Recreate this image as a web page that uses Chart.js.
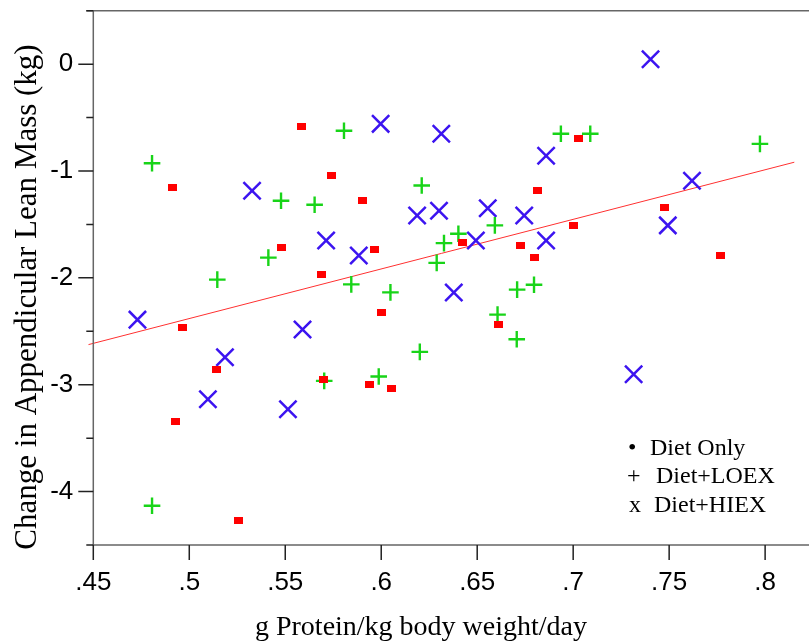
<!DOCTYPE html>
<html><head><meta charset="utf-8">
<script src="https://cdn.jsdelivr.net/npm/chart.js@4.4.1/dist/chart.umd.min.js"></script>
<style>html,body{margin:0;padding:0;background:#fff;overflow:hidden;}#wrap{width:809px;height:643px;position:relative;overflow:hidden;}#c{position:absolute;left:0;top:-4px;}</style>
</head><body><div id="wrap"><canvas id="c" width="809" height="647"></canvas></div>
<script>
// ---- data ----
const dietOnlyX = [.4913,.5585,.5742,.5903,.5483,.5964,.5687,.4964,.5141,.5697,.4927,.5255,.6004,.6611,.5941,.6055,.6422,.6727,.6801,.6815,.7029,.7004,.7474,.7765];
const dietOnlyY = [-1.157,-0.581,-1.042,-1.276,-1.718,-1.736,-1.970,-2.460,-2.855,-2.949,-3.344,-4.273,-2.322,-2.435,-2.995,-3.039,-1.668,-1.693,-1.811,-1.185,-0.693,-1.507,-1.344,-1.787];
const loexX = [.4806,.5478,.5653,.5412,.5146,.5806,.6211,.6936,.7089,.7973,.6592,.6402,.6327,.6289,.5844,.6048,.6708,.6796,.6606,.6706,.6201,.5987,.5703,.4806];
const loexY = [-0.927,-1.279,-1.316,-1.811,-2.017,-0.624,-1.136,-0.652,-0.652,-0.746,-1.509,-1.587,-1.675,-1.860,-2.061,-2.136,-2.110,-2.064,-2.344,-2.575,-2.693,-2.923,-2.964,-4.133];
const hiexX = [.5327,.5713,.5997,.6313,.6859,.6187,.6301,.6555,.6745,.6493,.6859,.5883,.6378,.7403,.7619,.7493,.4730,.5590,.5186,.5097,.5514,.7315];
const hiexY = [-1.185,-1.650,-0.559,-0.652,-0.858,-1.416,-1.372,-1.348,-1.416,-1.650,-1.650,-1.790,-2.138,0.045,-1.092,-1.509,-2.391,-2.484,-2.743,-3.136,-3.229,-2.902];
const fitSlope = 4.642;
const fitIntercept = -4.702;
const fitXRange = [0.4475, 0.8152];
const xTicks = [0.45,0.5,0.55,0.6,0.65,0.7,0.75,0.8];
const xTickLabels = ['.45','.5','.55','.6','.65','.7','.75','.8'];
const yTicks = [-4.5,-4,-3.5,-3,-2.5,-2,-1.5,-1,-0.5,0,0.5];
const yTickLabels = ['','-4','','-3','','-2','','-1','','0',''];
const seriesNames = ['Diet Only','Diet+LOEX','Diet+HIEX'];
const legendSymbols = ['\u2022','+','x'];
const xTitle = 'g Protein/kg body weight/day';
const yTitle = 'Change in Appendicular Lean Mass (kg)';

const zip = (xs, ys) => xs.map((x, i) => ({x, y: ys[i]}));

// red rectangular marker
const sq = document.createElement('canvas');
sq.width = 9; sq.height = 7;
const sctx = sq.getContext('2d');
sctx.fillStyle = '#ff0000';
sctx.fillRect(0, 0, 9, 7);

const SERIF = '"Liberation Serif", "Times New Roman", serif';
const SANS = '"Liberation Sans", Arial, sans-serif';
const OFFSET = 4; // canvas is shifted up by this many pixels

const decor = {
  id: 'decor',
  afterDraw(chart) {
    const {ctx, chartArea: a, scales: {x, y}} = chart;
    ctx.save();
    // frame
    ctx.strokeStyle = '#666';
    ctx.lineWidth = 1.5;
    ctx.beginPath();
    ctx.moveTo(a.left, a.top); ctx.lineTo(a.left, a.bottom); ctx.lineTo(chart.width, a.bottom);
    ctx.moveTo(a.left - 7, a.top); ctx.lineTo(chart.width, a.top);
    ctx.stroke();
    // ticks
    ctx.strokeStyle = '#222';
    ctx.beginPath();
    yTicks.forEach(v => {
      const py = y.getPixelForValue(v);
      const len = Number.isInteger(v) ? 15 : 7;
      ctx.moveTo(a.left - len, py); ctx.lineTo(a.left, py);
    });
    xTicks.forEach(v => {
      const px = x.getPixelForValue(v);
      ctx.moveTo(px, a.bottom); ctx.lineTo(px, a.bottom + 15);
    });
    ctx.stroke();
    // titles (page coordinates)
    ctx.translate(0, OFFSET);
    ctx.fillStyle = '#000';
    ctx.font = '28px ' + SERIF;
    ctx.textAlign = 'center';
    ctx.textBaseline = 'alphabetic';
    ctx.fillText(xTitle, 421, 635);
    ctx.save();
    ctx.translate(36, 297);
    ctx.rotate(-Math.PI / 2);
    ctx.font = '31px ' + SERIF;
    ctx.fillText(yTitle, 0, 0);
    ctx.restore();
    // legend
    ctx.font = '24px ' + SERIF;
    ctx.textAlign = 'left';
    const symX = [628, 627, 629];
    const txtX = [650, 656, 654];
    const base = [455, 483, 512];
    seriesNames.forEach((n, i) => {
      ctx.fillText(legendSymbols[i], symX[i], base[i]);
      ctx.fillText(n, txtX[i], base[i]);
    });
    ctx.restore();
  }
};

new Chart(document.getElementById('c'), {
  type: 'scatter',
  data: {
    datasets: [
      {label: seriesNames[0], data: zip(dietOnlyX, dietOnlyY), pointStyle: sq, pointRadius: 5, order: 1},
      {label: seriesNames[1], data: zip(loexX, loexY), pointStyle: 'cross', pointRadius: 8.3, borderWidth: 2.4, borderColor: '#18d418', backgroundColor: '#18d418', order: 2},
      {label: seriesNames[2], data: zip(hiexX, hiexY), pointStyle: 'crossRot', pointRadius: 12.2, borderWidth: 2.5, borderColor: '#3c14f0', backgroundColor: '#3c14f0', order: 3},
      {type: 'line', label: 'fit', data: fitXRange.map(v => ({x: v, y: fitIntercept + fitSlope * v})), borderColor: '#ff3030', borderWidth: 1, pointRadius: 0, clip: false, order: 4}
    ]
  },
  options: {
    responsive: false,
    animation: false,
    devicePixelRatio: 1,
    layout: {padding: {top: 6, left: 0, right: 0, bottom: 0}},
    plugins: {legend: {display: false}, tooltip: {enabled: false}},
    scales: {
      x: {
        type: 'linear', min: 0.45, max: 0.8152,
        afterBuildTicks: s => { s.ticks = xTicks.map(v => ({value: v})); },
        afterFit: s => { s.height = 98; s.paddingLeft = 0; s.paddingRight = 0; },
        grid: {display: false, drawTicks: false},
        border: {display: false},
        ticks: {callback: (v, i) => xTickLabels[i], font: {family: SANS, size: 26}, color: '#000', padding: 22, maxRotation: 0, autoSkip: false}
      },
      y: {
        type: 'linear', min: -4.5, max: 0.5,
        afterBuildTicks: s => { s.ticks = yTicks.map(v => ({value: v})); },
        afterFit: s => { s.width = 93.3; s.paddingTop = 0; s.paddingBottom = 0; },
        grid: {display: false, drawTicks: false},
        border: {display: false},
        ticks: {callback: (v, i) => yTickLabels[i], font: {family: SANS, size: 26}, color: '#000', padding: 20, autoSkip: false}
      }
    }
  },
  plugins: [decor]
});
</script></body></html>
